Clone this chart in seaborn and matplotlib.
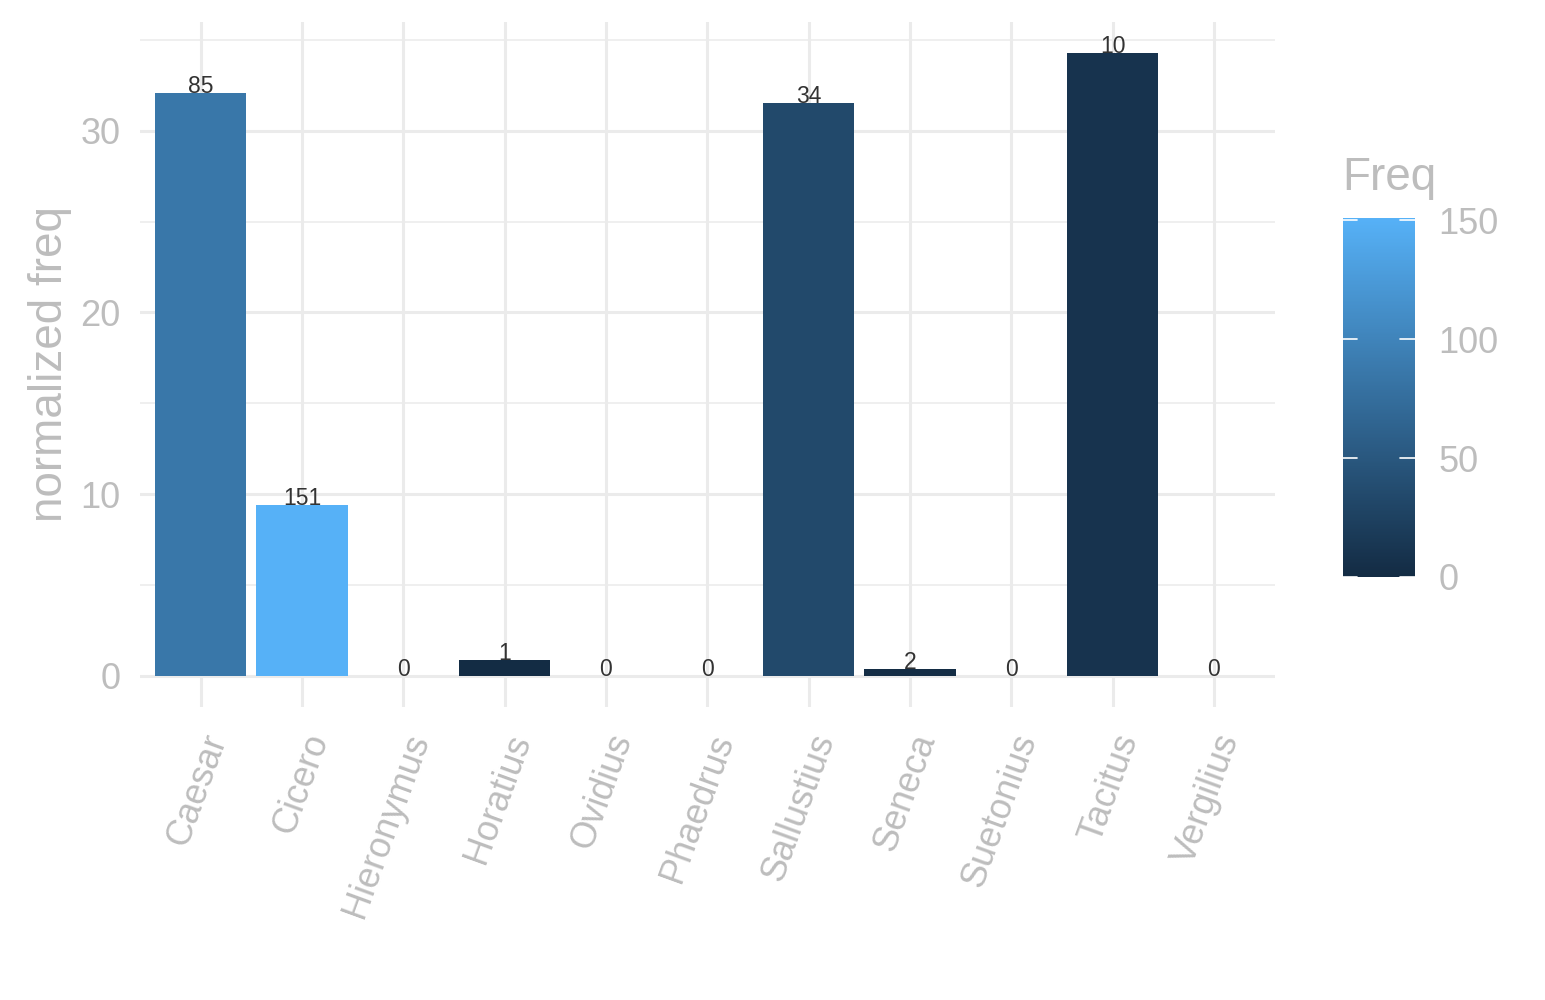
import seaborn as sns
import matplotlib.pyplot as plt
import matplotlib as mpl
import numpy as np
import pandas as pd

authors = ['Caesar', 'Cicero', 'Hieronymus', 'Horatius', 'Ovidius', 'Phaedrus',
           'Sallustius', 'Seneca', 'Suetonius', 'Tacitus', 'Vergilius']
freq = [85, 151, 0, 1, 0, 0, 34, 2, 0, 10, 0]
norm_freq = [32.07, 9.42, 0, 0.88, 0, 0, 31.5, 0.39, 0, 34.27, 0]

df = pd.DataFrame({'author': authors, 'Freq': freq, 'norm': norm_freq})

sns.set_style('white')
plt.rcParams['font.family'] = ['Liberation Sans', 'DejaVu Sans']

grey_txt = '#BDBDBD'
grid_col = '#EBEBEB'

# ggplot default continuous gradient
cmap = mpl.colors.LinearSegmentedColormap.from_list('gg', ['#132B43', '#56B1F7'])
fnorm = mpl.colors.Normalize(vmin=0, vmax=max(freq))
pal = {a: cmap(fnorm(f)) for a, f in zip(authors, freq)}

fig = plt.figure(figsize=(15.45, 10), dpi=100)
ax = fig.add_axes([0.0906, 0.293, 0.7344, 0.685])

# grid
for v in [0, 10, 20, 30]:
    ax.axhline(v, color=grid_col, lw=2.2, zorder=0)
for v in [5, 15, 25, 35]:
    ax.axhline(v, color=grid_col, lw=1.1, zorder=0)
for i in range(len(authors)):
    ax.axvline(i, color=grid_col, lw=2.2, zorder=0)

sns.barplot(data=df, x='author', y='norm', hue='author', palette=pal,
            legend=False, width=0.9, ax=ax, saturation=1, zorder=2, linewidth=0)

ymax = max(norm_freq)
ax.set_ylim(-0.05 * ymax, ymax * 1.05)
ax.set_xlim(-0.6, len(authors) - 0.4)

for i, (f, n) in enumerate(zip(freq, norm_freq)):
    ax.text(i, n, str(f), ha='center', va='baseline', fontsize=16.5,
            color='#333333', zorder=3)

for s in ax.spines.values():
    s.set_visible(False)
ax.tick_params(length=0)
ax.set_yticks([0, 10, 20, 30])
ax.tick_params(axis='y', labelsize=26, labelcolor=grey_txt, pad=14)
ax.tick_params(axis='x', labelsize=26, labelcolor=grey_txt, pad=16)
plt.setp(ax.get_xticklabels(), rotation=70, ha='right', va='top',
         rotation_mode='anchor')
ax.set_xlabel('')
ax.set_ylabel('normalized freq', fontsize=33, color=grey_txt, labelpad=6)

# colour bar
cax = fig.add_axes([0.869, 0.423, 0.0466, 0.359])
sm = mpl.cm.ScalarMappable(norm=fnorm, cmap=cmap)
cb = fig.colorbar(sm, cax=cax, ticks=[0, 50, 100, 150])
cb.outline.set_visible(False)
cax.tick_params(length=0, labelsize=26, labelcolor=grey_txt, pad=17)
for t in [0, 50, 100, 150]:
    cax.plot([0, 0.2], [t, t], color='white', lw=1.2, transform=cax.get_yaxis_transform())
    cax.plot([0.8, 1], [t, t], color='white', lw=1.2, transform=cax.get_yaxis_transform())
fig.text(0.869, 0.80, 'Freq', fontsize=33, color=grey_txt, ha='left', va='bottom')

fig.savefig('out.png', dpi=100)
